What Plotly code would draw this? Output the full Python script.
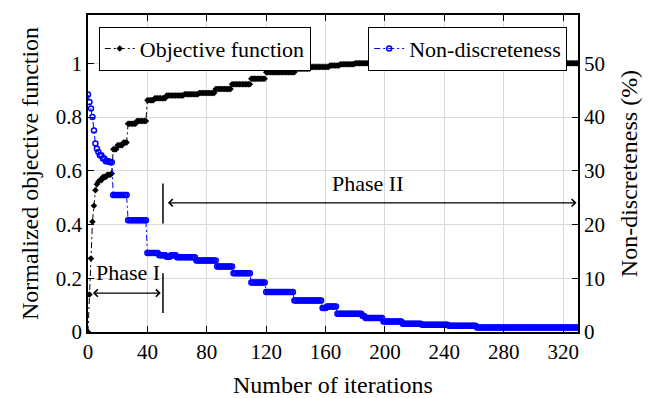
import plotly.graph_objects as go

# ---------------- data ----------------
N_ITER = 330

# Objective function (normalized): value held from each listed iteration onward
obj_iter = [0, 1, 2, 3, 4, 5, 6, 7, 8, 10, 13, 16, 17, 20, 24, 27, 33, 40, 45, 53,
            65, 75, 86, 97, 110, 120, 140, 150, 163, 170, 180]
obj_val = [0.0, 0.14, 0.274, 0.41, 0.47, 0.528, 0.55, 0.559, 0.565, 0.577, 0.585, 0.59,
           0.68, 0.695, 0.705, 0.775, 0.785, 0.863, 0.87, 0.88,
           0.885, 0.89, 0.905, 0.922, 0.943, 0.967, 0.98, 0.986, 0.992, 0.997, 1.0]

# Non-discreteness (%): value held from each listed iteration onward
nd_iter = [0, 1, 2, 3, 4, 5, 6, 7, 8, 10, 12, 15, 17, 27, 40, 48, 53, 56, 60, 73,
           87, 98, 110, 120, 139, 158, 161, 168, 185, 187, 199, 212, 225, 243, 262]
nd_val = [44.2, 42.8, 41.6, 40.0, 37.5, 35.1, 34.1, 33.5, 32.9, 32.3, 31.8, 31.6,
          25.5, 20.8, 14.7, 14.3, 14.0, 14.3, 13.9, 13.3,
          12.2, 10.95, 9.2, 7.45, 5.85, 4.45, 4.75, 3.4, 3.0, 2.6, 1.97, 1.54, 1.35, 1.15, 0.85]

x_ticks = [0, 40, 80, 120, 160, 200, 240, 280, 320]
yl_ticks = [0, 0.2, 0.4, 0.6, 0.8, 1.0]
yl_labels = ["0", "0.2", "0.4", "0.6", "0.8", "1"]
yr_ticks = [0, 10, 20, 30, 40, 50]

# annotation anchors (data coordinates)
PHASE_SPLIT = 50.5
PH1_ARROW = (2.3, 49.0, 0.145)
PH1_BAR = (0.0705, 0.219)
PH1_TEXT = (27, 0.222)
PH2_ARROW = (52.8, 329.0, 0.481)
PH2_BAR = (0.404, 0.553)
PH2_TEXT = (188, 0.554)


def hold(bi, bv, n):
    out = []
    j = 0
    for i in range(n + 1):
        while j + 1 < len(bi) and bi[j + 1] <= i:
            j += 1
        out.append(bv[j])
    return out


iters = list(range(N_ITER + 1))
obj = hold(obj_iter, obj_val, N_ITER)
nd = hold(nd_iter, nd_val, N_ITER)

FONT = "Liberation Serif, Times New Roman, serif"
DASHDOT = "6px,3px,2px,3px"

fig = go.Figure()
fig.add_trace(go.Scatter(
    x=iters, y=obj, name="Objective function", mode="lines+markers",
    line=dict(color="black", width=1, dash=DASHDOT),
    marker=dict(symbol="diamond", size=5, color="black"),
    yaxis="y", legend="legend"))
fig.add_trace(go.Scatter(
    x=iters, y=nd, name="Non-discreteness", mode="lines+markers",
    line=dict(color="#0000ff", width=1, dash=DASHDOT),
    marker=dict(symbol="circle-open", size=5, color="#0000ff", line=dict(width=1.5, color="#0000ff")),
    yaxis="y2", legend="legend2"))

axis_common = dict(ticks="inside", ticklen=6, tickwidth=1.3, tickcolor="black",
                   showline=True, linecolor="black", linewidth=1.5, zeroline=False,
                   automargin=False,
                   tickfont=dict(size=21, family=FONT, color="black"))

fig.update_layout(
    width=654, height=398,
    margin=dict(l=88, r=76, t=15, b=66),
    paper_bgcolor="white", plot_bgcolor="white",
    font=dict(family=FONT, size=21, color="black"),
    xaxis=dict(range=[0, 330], tickvals=x_ticks, mirror="ticks",
               showgrid=True, gridcolor="#d9d9d9", gridwidth=1,
               title=dict(text="Number of iterations", font=dict(size=24), standoff=13),
               **axis_common),
    yaxis=dict(range=[0, 1.18], tickvals=yl_ticks, ticktext=yl_labels,
               showgrid=True, gridcolor="#d9d9d9", gridwidth=1,
               title=dict(text="Normalized objective function", font=dict(size=24), standoff=10),
               **axis_common),
    yaxis2=dict(range=[0, 59], tickvals=yr_ticks, overlaying="y", side="right",
                showgrid=False,
                title=dict(text="Non-discreteness (%)", font=dict(size=24), standoff=16),
                **axis_common),
    legend=dict(x=0.022, y=0.963, xanchor="left", yanchor="top",
                bgcolor="white", bordercolor="black", borderwidth=1,
                font=dict(size=22, family=FONT)),
    legend2=dict(x=0.978, y=0.963, xanchor="right", yanchor="top",
                 bgcolor="white", bordercolor="black", borderwidth=1,
                 font=dict(size=22, family=FONT)),
    showlegend=True,
)

arrow_style = dict(showarrow=True, arrowhead=4, startarrowhead=4, arrowside="end+start",
                   arrowsize=1.2, startarrowsize=1.2, arrowwidth=1.2, arrowcolor="black",
                   xref="x", yref="y", axref="x", ayref="y", text="", standoff=0, startstandoff=0)

fig.add_annotation(x=PH1_ARROW[1], y=PH1_ARROW[2], ax=PH1_ARROW[0], ay=PH1_ARROW[2], **arrow_style)
fig.add_annotation(x=PH2_ARROW[1], y=PH2_ARROW[2], ax=PH2_ARROW[0], ay=PH2_ARROW[2], **arrow_style)

fig.add_shape(type="line", xref="x", yref="y", x0=PHASE_SPLIT, x1=PHASE_SPLIT,
              y0=PH1_BAR[0], y1=PH1_BAR[1], line=dict(color="black", width=1.5))
fig.add_shape(type="line", xref="x", yref="y", x0=PHASE_SPLIT, x1=PHASE_SPLIT,
              y0=PH2_BAR[0], y1=PH2_BAR[1], line=dict(color="black", width=1.5))

fig.add_annotation(x=PH1_TEXT[0], y=PH1_TEXT[1], text="Phase I", showarrow=False,
                   xref="x", yref="y", font=dict(size=22, family=FONT, color="black"))
fig.add_annotation(x=PH2_TEXT[0], y=PH2_TEXT[1], text="Phase II", showarrow=False,
                   xref="x", yref="y", font=dict(size=22, family=FONT, color="black"))

fig.write_html("out.html")
